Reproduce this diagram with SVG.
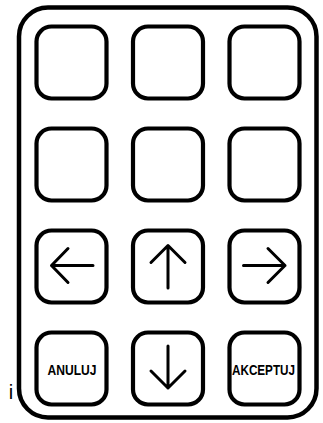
<svg xmlns="http://www.w3.org/2000/svg" width="323" height="423" viewBox="0 0 323 423">
<style>
.frame{fill:#fff;stroke:#000;stroke-width:4.5}
.btn{fill:#fff;stroke:#000;stroke-width:4.2}
.ico{fill:none;stroke:#000;stroke-width:3;stroke-linecap:round;stroke-linejoin:round}
.lbl{font-family:"Liberation Sans",Arial,sans-serif;font-weight:bold;font-size:15px;fill:#000}
.side{font-family:"Liberation Sans",Arial,sans-serif;font-size:20px;fill:#000}
</style>
<rect width="323" height="423" fill="#fff"/>
<g id="pad">
<rect class="frame" x="19" y="7.5" width="297.5" height="410" rx="29"/>
</g>
<g id="b11"><rect class="btn" x="36.5" y="26.5" width="70" height="72" rx="15"/></g>
<g id="b12"><rect class="btn" x="133" y="26.5" width="70" height="72" rx="15"/></g>
<g id="b13"><rect class="btn" x="229.5" y="26.5" width="70" height="72" rx="15"/></g>
<g id="b21"><rect class="btn" x="36.5" y="128.5" width="70" height="72" rx="15"/></g>
<g id="b22"><rect class="btn" x="133" y="128.5" width="70" height="72" rx="15"/></g>
<g id="b23"><rect class="btn" x="229.5" y="128.5" width="70" height="72" rx="15"/></g>
<g id="left"><rect class="btn" x="36.5" y="230.5" width="70" height="72" rx="15"/>
<path class="ico" d="M93 265.5H51.5M68 248.5L51.5 265.5L68 282.5"/></g>
<g id="up"><rect class="btn" x="133" y="230.5" width="70" height="72" rx="15"/>
<path class="ico" d="M168 288V245.5M151 262.5L168 245.5L185 262.5"/></g>
<g id="right"><rect class="btn" x="229.5" y="230.5" width="70" height="72" rx="15"/>
<path class="ico" d="M243.5 265.5H285M268 248.5L285 265.5L268 282.5"/></g>
<g id="anuluj"><rect class="btn" x="36.5" y="332.5" width="70" height="72" rx="15"/>
<text class="lbl" x="72" y="374.5" text-anchor="middle" textLength="49" lengthAdjust="spacingAndGlyphs">ANULUJ</text></g>
<g id="down"><rect class="btn" x="133" y="332.5" width="70" height="72" rx="15"/>
<path class="ico" d="M168 346V388M151 371L168 388L185 371"/></g>
<g id="akceptuj"><rect class="btn" x="229.5" y="332.5" width="70" height="72" rx="15"/>
<text class="lbl" x="263.5" y="374.5" text-anchor="middle" textLength="63" lengthAdjust="spacingAndGlyphs">AKCEPTUJ</text></g>
<text class="side" x="11" y="398.5" text-anchor="middle">i</text>
</svg>
